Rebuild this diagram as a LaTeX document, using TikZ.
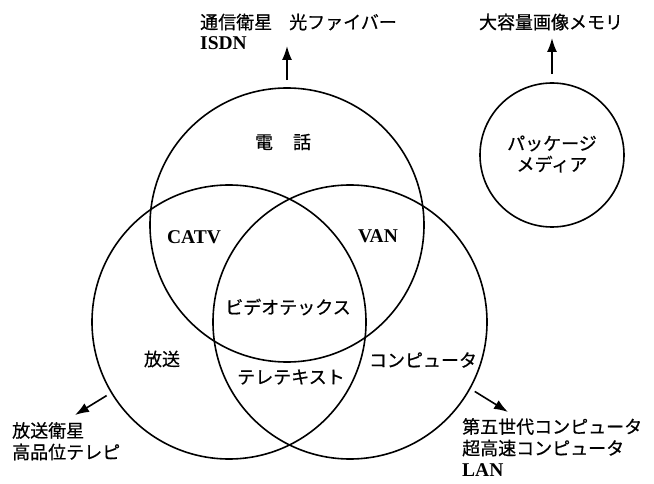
\documentclass[tikz,border=0pt]{standalone}
\usepackage{fontspec}
\setmainfont{Liberation Serif}
\newfontfamily\jp{Noto Sans CJK JP}[FakeBold=0.6]
\usetikzlibrary{arrows.meta}
\tikzset{
  ring/.style={draw, circle, line width=1.6pt, inner sep=0pt},
  arr/.style={line width=1.6pt, -{Latex[length=14pt,width=10pt]}},
  jlab/.style={font=\jp\fontsize{18}{21}\selectfont, inner sep=0pt},
  llab/.style={font=\bfseries\fontsize{19.5}{21}\selectfont, inner sep=0pt},
  blk/.style={font=\jp\fontsize{18}{21.5}\selectfont, inner sep=0pt, align=left, anchor=north west}
}
\begin{document}
\begin{tikzpicture}[x=1pt,y=-1pt]
\useasboundingbox (0,0) rectangle (654,484);
% circles
\node[ring, minimum size=274pt] (tel) at (287,225) {};
\node[ring, minimum size=274pt] (bc) at (229,322) {};
\node[ring, minimum size=274pt] (comp) at (350,322) {};
\node[ring, minimum size=144pt] (pkg) at (552,155) {};
% labels in circles
\node[jlab] (l1) at (283,142) {電\hspace{20pt}話};
\node[jlab, align=center] (l2) at (552,154) {パッケージ\\メディア};
\node[llab] (l3) at (194,237) {CATV};
\node[llab] (l4) at (378,236) {VAN};
\node[jlab] (l5) at (288,307) {ビデオテックス};
\node[jlab] (l6) at (162,359) {放送};
\node[jlab] (l7) at (291,377) {テレテキスト};
\node[jlab] (l8) at (423,360) {コンピュータ};
% outer texts
\node[jlab, anchor=west] (t1) at (200,22) {通信衛星\hspace{17pt}光ファイバー};
\node[llab, anchor=west] (t2) at (200,43) {ISDN};
\node[jlab] (t3) at (551,22) {大容量画像メモリ};
\node[blk] (t4) at (12,422) {放送衛星\\高品位テレピ};
\node[blk] (t5) at (462,418) {第五世代コンピュータ\\超高速コンピュータ\\\rmfamily\bfseries\fontsize{19.5}{21.5}\selectfont LAN};
% arrows
\coordinate (telB) at (287,46);
\coordinate (pkgB) at (552,38);
\coordinate (bcB) at (75,415);
\coordinate (compB) at (508,412);
\draw[arr, shorten <=7pt] (tel.north) -- (telB);
\draw[arr, shorten <=8pt] (pkg.north) -- (pkgB);
\draw[arr, shorten <=5pt] (bc.211) -- (bcB);
\draw[arr, shorten <=5pt] (comp.331) -- (compB);
\end{tikzpicture}
\end{document}
